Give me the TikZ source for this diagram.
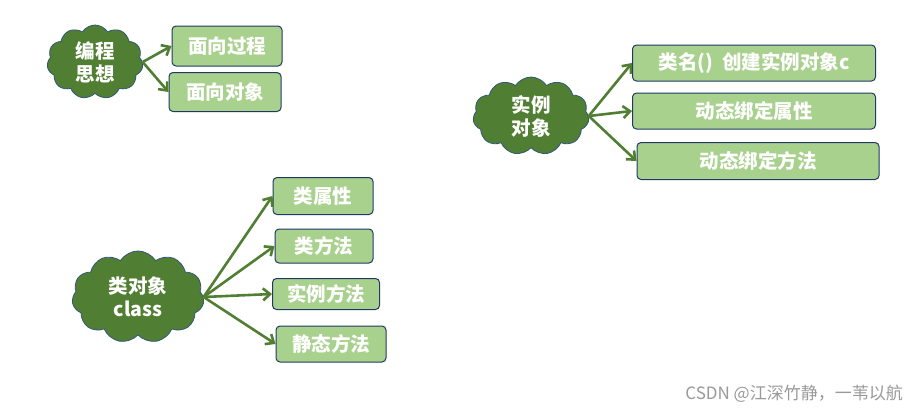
\documentclass[tikz,border=0pt]{standalone}
\usepackage{fontspec}
\setmainfont{Noto Sans CJK SC}
\usetikzlibrary{shapes.symbols,arrows.meta}
\definecolor{vertfonce}{HTML}{507E32}
\definecolor{vertclair}{HTML}{A9D18E}
\definecolor{bordbleu}{HTML}{203864}
\definecolor{bordnuage}{HTML}{31577A}
\begin{document}
\begin{tikzpicture}[x=1pt,y=-1pt]
  \tikzstyle{every node}=[text=white, font=\fontsize{19.5}{23}\selectfont\bfseries, inner sep=0pt]
  \tikzstyle{idee}=[cloud, cloud puffs=11, cloud puff arc=115, draw=bordnuage, fill=vertfonce, line width=0.8pt, align=center]
  \tikzstyle{branche}=[rectangle, draw=bordbleu, fill=vertclair, rounded corners=4pt, line width=1pt, minimum height=37pt]
  \tikzstyle{fleche}=[-{Straight Barb[length=7pt,width=12pt]}, draw=vertfonce, line width=2.6pt]
  \useasboundingbox (0,0) rectangle (918,413);
  % programming ideas
  \node[idee, minimum width=96pt, minimum height=74pt] (pensee) at (95,62) {编程\\思想};
  \node[branche, minimum width=110pt, minimum height=40pt] (procedure) at (227,46) {面向过程};
  \node[branche, minimum width=112pt, minimum height=39pt] (objet) at (225,92) {面向对象};
  \draw[fleche] (pensee.east) -- (procedure.west);
  \draw[fleche] (pensee.east) -- (objet.west);
  % instance object
  \node[idee, minimum width=116pt, minimum height=78pt] (instance) at (531,116) {实例\\对象};
  \node[branche, minimum width=243pt, minimum height=36pt] (creation) at (754,63) {类名()\ \ 创建实例对象c};
  \node[branche, minimum width=243pt, minimum height=36pt] (attrdyn) at (754,111) {动态绑定属性};
  \node[branche, minimum width=242pt, minimum height=37pt] (methdyn) at (758,161) {动态绑定方法};
  \draw[fleche] (instance.east) -- (creation.west);
  \draw[fleche] (instance.east) -- (attrdyn.west);
  \draw[fleche] (instance.east) -- (methdyn.west);
  % class object
  \node[idee, minimum width=132pt, minimum height=72pt] (classe) at (138,297) {类对象\\class};
  \node[branche, minimum width=100pt] (attrclasse) at (323,196) {类属性};
  \node[branche, minimum width=98pt, minimum height=34pt] (methclasse) at (324,246) {类方法};
  \node[branche, minimum width=107pt, minimum height=31pt] (methinst) at (326,294) {实例方法};
  \node[branche, minimum width=110pt, minimum height=36pt] (methstat) at (331,344) {静态方法};
  \draw[fleche] (classe.east) -- (attrclasse.west);
  \draw[fleche] (classe.east) -- (methclasse.west);
  \draw[fleche] (classe.east) -- (methinst.west);
  \draw[fleche] (classe.east) -- (methstat.west);
  % watermark
  \node[text=black!40, font=\fontsize{17}{19}\selectfont, anchor=east] (marque) at (903,394) {CSDN @江深竹静，一苇以航};
\end{tikzpicture}
\end{document}
